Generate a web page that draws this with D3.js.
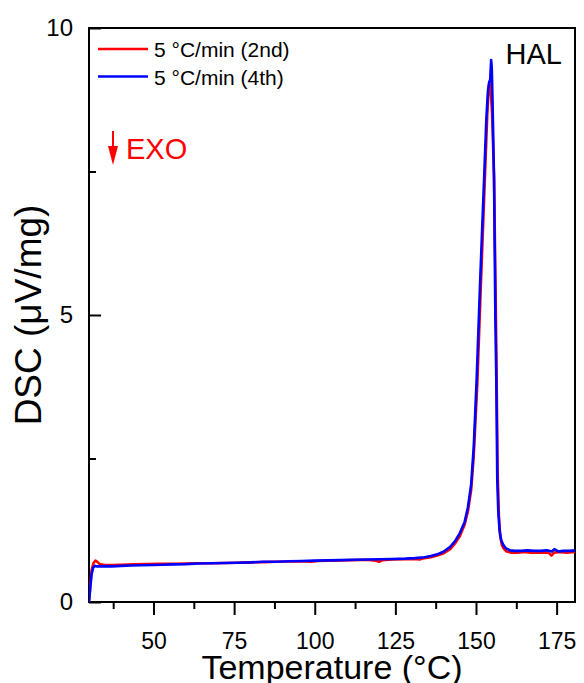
<!DOCTYPE html>
<html>
<head>
<meta charset="utf-8">
<script src="https://cdn.jsdelivr.net/npm/d3@7"></script>
<style>
  html, body { margin: 0; padding: 0; background: #fff; }
  svg { display: block; font-family: Arial, "Liberation Sans", sans-serif; }
</style>
</head>
<body>
<svg id="chart" width="584" height="683"></svg>
<script>
// temperature (°C) and DSC signal (µV/mg)
const tempRun2 = [30, 30.4, 30.8, 31.4, 32.0, 32.6, 33.3, 34.5, 37, 40, 44, 48, 52, 56, 60, 64, 68, 72, 76, 80, 84, 88, 92, 96, 99, 101, 104, 108, 112, 116, 119, 120, 121, 124, 128, 131, 132.5, 134, 136, 138, 140, 142, 143.5, 145, 146.5, 147.5, 148.5, 149.3, 150.4, 151.5, 152.7, 153.5, 154.0, 154.3, 154.6, 155.0, 155.6, 156.1, 156.4, 156.7, 157.1, 157.5, 158.0, 158.6, 159.5, 161, 163, 165, 167, 169, 171, 172.5, 173.4, 174.2, 176, 178, 180.7];
const dscRun2 = [0.0, 0.3, 0.55, 0.68, 0.72, 0.70, 0.66, 0.65, 0.645, 0.65, 0.655, 0.66, 0.665, 0.665, 0.67, 0.675, 0.675, 0.68, 0.685, 0.69, 0.695, 0.70, 0.705, 0.71, 0.70, 0.715, 0.72, 0.725, 0.73, 0.735, 0.72, 0.70, 0.73, 0.74, 0.745, 0.75, 0.74, 0.765, 0.78, 0.81, 0.85, 0.92, 1.02, 1.15, 1.35, 1.58, 1.95, 2.55, 3.8, 5.5, 7.3, 8.5, 9.0, 9.06, 8.9, 8.5, 7.4, 5.3, 3.9, 2.3, 1.5, 1.15, 1.0, 0.93, 0.88, 0.86, 0.86, 0.87, 0.86, 0.86, 0.865, 0.86, 0.81, 0.86, 0.87, 0.86, 0.87];

const tempRun4 = [30, 30.4, 30.8, 31.3, 31.8, 32.5, 33.5, 35, 37, 40, 43, 46, 50, 53, 56, 60, 64, 68, 72, 76, 80, 84, 88, 92, 96, 100, 104, 108, 112, 116, 120, 124, 128, 131, 134, 136, 138, 140, 142, 143.5, 145, 146.5, 147.5, 148.5, 149.3, 150.2, 151.3, 152.5, 153.2, 153.7, 154.1, 154.4, 154.7, 154.9, 155.1, 155.6, 156.0, 156.3, 156.6, 156.9, 157.3, 157.8, 158.4, 159.2, 160.5, 162, 164, 166, 168, 170, 172, 173.5, 174.3, 175.5, 177, 179, 180.7];
const dscRun4 = [0.0, 0.25, 0.48, 0.60, 0.63, 0.62, 0.62, 0.625, 0.62, 0.63, 0.635, 0.64, 0.645, 0.65, 0.655, 0.66, 0.67, 0.675, 0.68, 0.685, 0.69, 0.70, 0.70, 0.71, 0.715, 0.72, 0.725, 0.73, 0.735, 0.74, 0.745, 0.75, 0.755, 0.765, 0.78, 0.80, 0.83, 0.88, 0.96, 1.06, 1.20, 1.40, 1.65, 2.05, 2.7, 3.87, 5.6, 7.35, 8.4, 8.9, 9.06, 9.1, 9.44, 9.3, 8.8, 7.35, 5.0, 3.87, 2.13, 1.6, 1.25, 1.08, 1.0, 0.94, 0.90, 0.89, 0.89, 0.90, 0.89, 0.89, 0.90, 0.88, 0.92, 0.88, 0.89, 0.89, 0.90];

const seriesNames = ["5 °C/min (2nd)", "5 °C/min (4th)"];
const seriesColors = ["#ff0000", "#0000ff"];
const xMajorTicks = [50, 75, 100, 125, 150, 175];
const xMinorTicks = [37.5, 62.5, 87.5, 112.5, 137.5, 162.5];
const yMajorTicks = [0, 5, 10];
const yMinorTicks = [2.5, 7.5];

const svg = d3.select("#chart");
const margin = { left: 89, right: 9, top: 28, bottom: 81 };
const width = 584 - margin.left - margin.right;
const height = 683 - margin.top - margin.bottom;

const x = d3.scaleLinear().domain([30, 180.7]).range([0, width]);
const y = d3.scaleLinear().domain([0, 10]).range([height, 0]);

const g = svg.append("g").attr("transform", `translate(${margin.left},${margin.top})`);

// x axis: ticks pointing out
const xAxis = g.append("g")
  .attr("transform", `translate(0,${height})`)
  .call(d3.axisBottom(x).tickValues(xMajorTicks).tickSize(13).tickPadding(18).tickFormat(d3.format("d")));
g.append("g")
  .attr("transform", `translate(0,${height})`)
  .call(d3.axisBottom(x).tickValues(xMinorTicks).tickSize(7).tickFormat(""))
  .call((sel) => sel.select(".domain").remove());

// y axis: ticks pointing in
const yAxis = g.append("g")
  .call(d3.axisLeft(y).tickValues(yMajorTicks).tickSize(-12).tickPadding(16).tickFormat(d3.format("d")));
g.append("g")
  .call(d3.axisLeft(y).tickValues(yMinorTicks).tickSize(-7).tickFormat(""))
  .call((sel) => sel.select(".domain").remove());

svg.selectAll(".tick line").attr("stroke", "#000").attr("stroke-width", 2);
svg.selectAll(".domain").remove();
xAxis.selectAll("text").attr("font-size", 23).attr("fill", "#000").attr("font-family", "Arial, 'Liberation Sans', sans-serif");
yAxis.selectAll("text").attr("font-size", 24).attr("fill", "#000").attr("font-family", "Arial, 'Liberation Sans', sans-serif");

// frame
g.append("rect")
  .attr("width", width)
  .attr("height", height)
  .attr("fill", "none")
  .attr("stroke", "#000")
  .attr("stroke-width", 2);

const line = d3.line().x((d) => x(d[0])).y((d) => y(d[1]));
const series = [
  d3.zip(tempRun2, dscRun2),
  d3.zip(tempRun4, dscRun4),
];

const clip = g.append("clipPath").attr("id", "plot-clip");
clip.append("rect").attr("width", width).attr("height", height);

g.append("g")
  .attr("clip-path", "url(#plot-clip)")
  .selectAll("path")
  .data(series)
  .join("path")
  .attr("d", line)
  .attr("fill", "none")
  .attr("stroke", (_d, i) => seriesColors[i])
  .attr("stroke-width", 2.6)
  .attr("stroke-linejoin", "round");

// legend
const legend = g.append("g").attr("transform", "translate(9,21)");
seriesNames.forEach((name, i) => {
  const row = legend.append("g").attr("transform", `translate(0,${i * 27.5})`);
  row.append("line")
    .attr("x1", 0).attr("x2", 50)
    .attr("stroke", seriesColors[i])
    .attr("stroke-width", 2.4);
  row.append("text")
    .attr("x", 56).attr("y", 8)
    .attr("font-size", 21)
    .attr("fill", "#000")
    .text(name);
});

// EXO marker
const exo = g.append("g").attr("fill", "#ff0000");
exo.append("line")
  .attr("x1", 24).attr("x2", 24).attr("y1", 103).attr("y2", 124)
  .attr("stroke", "#ff0000").attr("stroke-width", 2);
exo.append("path").attr("d", "M19,118 L29,118 L24,137 Z");
exo.append("text")
  .attr("x", 37).attr("y", 131)
  .attr("font-size", 29)
  .text("EXO");

g.append("text")
  .attr("x", width - 13)
  .attr("y", 36)
  .attr("text-anchor", "end")
  .attr("font-size", 29)
  .attr("fill", "#000")
  .text("HAL");

// axis titles
svg.append("text")
  .attr("x", margin.left + width / 2)
  .attr("y", 679)
  .attr("text-anchor", "middle")
  .attr("font-size", 34)
  .attr("fill", "#000")
  .text("Temperature (°C)");

svg.append("text")
  .attr("transform", `translate(41,${margin.top + height / 2}) rotate(-90)`)
  .attr("text-anchor", "middle")
  .attr("font-size", 37)
  .attr("fill", "#000")
  .text("DSC (μV/mg)");
</script>
</body>
</html>
